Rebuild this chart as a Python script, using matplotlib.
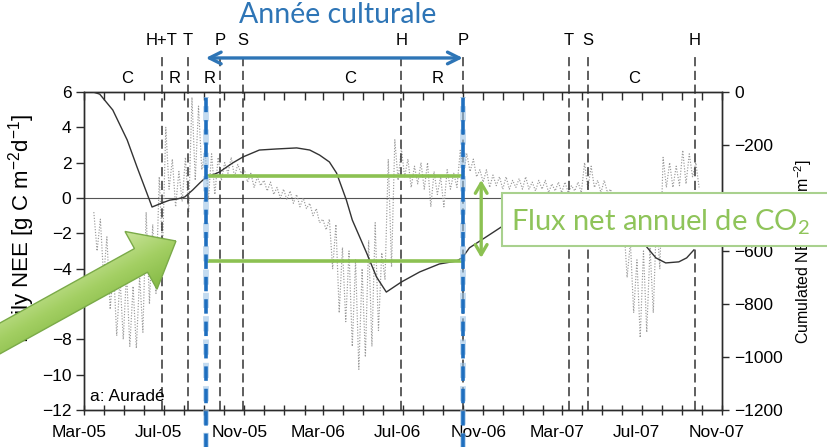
import datetime as dt

import matplotlib
matplotlib.use("Agg")
import matplotlib.pyplot as plt
import matplotlib.dates as mdates
import numpy as np
from matplotlib.colors import LinearSegmentedColormap
from matplotlib.patches import FancyArrow, Rectangle
from matplotlib.transforms import ScaledTranslation

plt.rcParams["font.family"] = ["Liberation Sans", "DejaVu Sans"]
plt.rcParams["font.size"] = 12

# ---------------------------------------------------------------- data
# Daily NEE (g C m-2 d-1), one value every 5 days from 16 Mar 2005
nee_start = dt.date(2005, 3, 16)
nee_step_days = 5
daily_nee = [
    -0.8, -3.0, -1.2, -4.5, -2.2, -6.3,   # Mar-Apr 05
    -3.9, -7.8, -4.5, -8.0, -4.2, -8.4,   # Apr-May 05
    -5.0, -8.5, -4.4, -7.6, -0.8, -6.0,   # May-Jun 05
    -1.5, -5.4, 1.2, -3.0, 4.0, 0.5,      # Jun-Jul 05
    2.2, -0.5, 1.5, -0.2, 2.3, -0.8,      # Jul-Aug 05
    5.7, 1.0, 5.2, 1.6, 2.7, -0.1,        # Aug-Sep 05
    2.5, 0.2, 2.3, 1.0, 2.0, 1.4,         # Sep-Oct 05
    2.3, 1.2, 1.9, 1.4, 1.6, 0.9,         # Oct-Nov 05
    1.4, 0.6, 1.2, 0.7, 1.0, 0.4,         # Nov-Dec 05
    0.9, 0.2, 0.6, 0.0, 0.5, -0.1,        # Dec 05-Jan 06
    0.4, -0.3, 0.2, -0.5, 0.0, -0.6,      # Jan-Feb 06
    -0.3, -1.0, -0.6, -1.4, -1.2, -1.8,   # Feb-Mar 06
    -1.2, -4.0, -1.5, -6.5, -2.8, -7.0,   # Mar-Apr 06
    -3.0, -8.4, -3.5, -9.7, -4.0, -9.0,   # Apr-May 06
    -2.4, -8.4, -1.4, -7.5, -3.1, -4.6,   # May-Jun 06
    2.2, -3.9, 3.3, 1.0, 2.8, 1.2,        # Jun-Jul 06
    2.2, 0.6, 1.8, 0.8, 2.0, 0.5,         # Jul-Aug 06
    2.0, -0.5, 1.5, 0.2, 1.2, -0.5,       # Aug-Sep 06
    1.6, 0.5, 1.4, 0.6, 2.7, 1.4,         # Sep-Oct 06
    2.5, 1.5, 2.2, 1.2, 1.6, 0.9,         # Oct-Nov 06
    1.6, 0.6, 1.3, 0.7, 1.2, 0.5,         # Nov-Dec 06
    1.2, 0.5, 1.0, 0.6, 1.1, 0.5,         # Dec 06
    1.2, 0.5, 0.9, 0.4, 1.0, 0.5,         # Jan 07
    1.0, 0.3, 0.8, 0.4, 0.9, 0.3,         # Feb 07
    0.9, 0.3, 0.7, 0.4, 0.9, 0.3,         # Mar 07
    2.0, 0.5, 1.8, 0.6, 1.0, 0.3,         # Apr 07
    1.0, 0.3, 0.5, -1.0, -0.5, -2.0,      # May 07
    -1.5, -4.5, -2.5, -6.5, -3.5, -7.9,   # Jun 07
    -3.0, -7.6, -2.8, -6.5, -1.0, -4.0,   # Jul 07
    2.3, 0.6, 2.0, 0.6, 1.8, 0.7,         # Aug 07
    2.7, 0.8, 2.5, 1.2, 2.0, 0.6,         # Sep 07
]

# Cumulated NEE (g C m-2)
cum_dates = [
    "2005-03-15", "2005-03-25", "2005-04-14", "2005-05-06", "2005-05-21",
    "2005-06-05", "2005-06-13", "2005-06-28", "2005-07-10", "2005-07-21",
    "2005-08-02", "2005-08-14", "2005-08-25", "2005-09-02", "2005-09-24",
    "2005-10-14", "2005-10-30", "2005-11-24", "2005-12-20", "2006-01-20",
    "2006-02-09", "2006-02-24", "2006-03-11", "2006-03-22", "2006-04-06",
    "2006-04-15", "2006-05-07", "2006-05-22", "2006-06-06", "2006-06-29",
    "2006-07-27", "2006-08-26", "2006-09-21", "2006-09-30", "2006-10-11",
    "2006-11-03", "2006-11-29", "2006-12-26", "2007-01-26", "2007-02-25",
    "2007-03-28", "2007-04-27", "2007-05-20", "2007-06-12", "2007-06-27",
    "2007-07-09", "2007-07-23", "2007-08-07", "2007-08-27", "2007-09-08",
    "2007-09-19",
]
cum_nee = [
    0, -8, -68, -181, -283,
    -381, -434, -419, -408, -404,
    -396, -370, -343, -325, -302,
    -268, -245, -219, -215, -211,
    -219, -238, -264, -306, -408,
    -483, -608, -698, -755, -717,
    -679, -649, -638, -626, -588,
    -551, -509, -483, -460, -438,
    -419, -408, -426, -483, -540,
    -585, -626, -645, -641, -626,
    -596,
]

# Management events (H harvest, T tillage, P ploughing, S sowing)
event_labels = ["H+T", "T", "P", "S", "H", "P", "T", "S", "H"]
event_dates = ["2005-06-28", "2005-08-07", "2005-09-25", "2005-10-30",
               "2006-06-29", "2006-10-01", "2007-03-12", "2007-04-10",
               "2007-09-20"]

# Periods: C crop, R residues / bare soil
period_labels = ["C", "R", "R", "C", "R", "C"]
period_dates = ["2005-05-06", "2005-07-18", "2005-09-09", "2006-04-11",
                "2006-08-23", "2007-06-20"]

# Crop year and its net annual flux
crop_year = ["2005-09-03", "2006-10-01"]
crop_year_cum = [-317, -638]
flux_arrow_date = "2006-10-29"
flux_arrow_span = [-332, -626]

x_range = ["2005-03-01", "2007-11-01"]
left_ticks = list(range(-12, 7, 2))
right_ticks = list(range(-1200, 1, 200))


def to_num(s):
    return mdates.date2num(dt.datetime.strptime(s, "%Y-%m-%d"))


nee_x = [mdates.date2num(nee_start + dt.timedelta(days=nee_step_days * i))
         for i in range(len(daily_nee))]
cum_x = [to_num(d) for d in cum_dates]

# ---------------------------------------------------------------- figure
W, H = 827, 447
fig = plt.figure(figsize=(W / 100, H / 100), dpi=100)
ax = fig.add_axes([84 / W, 1 - 410 / H, (722 - 84) / W, (410 - 92) / H])
ax2 = ax.twinx()

ink = "#2b2b2b"

ax.plot(nee_x, daily_nee, color="#9a9a9a", lw=0.85, ls=(0, (1, 1.4)),
        zorder=2)
ax.axhline(0, color="#555555", lw=0.8, zorder=1)
ax2.plot(cum_x, cum_nee, color="#333333", lw=1.0, zorder=3)

ax.set_xlim(to_num(x_range[0]), to_num(x_range[1]))
ax.set_ylim(left_ticks[0], left_ticks[-1])
ax2.set_ylim(right_ticks[0], right_ticks[-1])
ax.set_yticks(left_ticks)
ax2.set_yticks(right_ticks)

ax.xaxis.set_major_locator(mdates.MonthLocator(bymonth=[3, 7, 11]))
ax.xaxis.set_minor_locator(mdates.MonthLocator())
ax.xaxis.set_major_formatter(mdates.DateFormatter("%b-%y"))

for a in (ax, ax2):
    for sp in a.spines.values():
        sp.set_color(ink)
        sp.set_linewidth(1.0)

ax.tick_params(axis="x", which="both", direction="inout", length=7,
               width=1, color=ink, pad=7, labelsize=12.5)
ax.tick_params(axis="y", direction="out", length=6, width=1, color=ink,
               pad=3, labelsize=12.5)
ax2.tick_params(axis="y", direction="out", length=5, width=1, color=ink,
                pad=4, labelsize=12.5)
# Inward ticks along the top edge
ax2.xaxis.set_visible(True)
ax2.tick_params(axis="x", which="both", bottom=False, top=True,
                labelbottom=False, labeltop=False, direction="in",
                length=6, width=1, color=ink)

shift = ScaledTranslation(-5 / 100, 0, fig.dpi_scale_trans)
for lab in ax.get_xticklabels():
    lab.set_transform(lab.get_transform() + shift)

ax.set_ylabel(r"Daily NEE [g C m$\mathregular{^{-2}}$d$\mathregular{^{-1}}$]",
              fontsize=16)
ax.yaxis.set_label_coords(-0.074, 0.572)
ax2.set_ylabel(r"Cumulated NEE [g C m$\mathregular{^{-2}}$]", fontsize=11.5)
ax2.yaxis.set_label_coords(1.11, 0.5)

ax.text(0.01, 0.041, "a: Auradé", transform=ax.transAxes, fontsize=12.5,
        ha="left", va="center")

# Management events: dashed verticals with their letters above the frame
xt = ax.get_xaxis_transform()
for lab, d in zip(event_labels, event_dates):
    ax.axvline(to_num(d), ymin=0, ymax=1.1226, color="#333333", lw=1.1,
               ls=(0, (6, 3)), clip_on=False, zorder=2)
    ax.text(to_num(d), 1.1635, lab, transform=xt, ha="center",
            va="center", fontsize=12)
for lab, d in zip(period_labels, period_dates):
    ax.text(to_num(d), 1.044, lab, transform=xt, ha="center",
            va="center", fontsize=12)

# Crop year: blue dashed bounds and double arrow
blue = "#1f6fbf"
for d in crop_year:
    ax2.axvline(to_num(d), ymin=-0.118, ymax=0.985, color="#9cc3e6",
                lw=4.2, ls=(0, (2.6, 1.4)), clip_on=False, zorder=8,
                alpha=0.6)
    ax2.axvline(to_num(d), ymin=-0.118, ymax=0.985, color=blue, lw=2.6,
                ls=(0, (4, 2.2)), clip_on=False, zorder=8)
xt2 = ax2.get_xaxis_transform()
ax2.annotate("", xy=(to_num(crop_year[1]), 1.107),
             xytext=(to_num(crop_year[0]), 1.107),
             xycoords=xt2, textcoords=xt2,
             arrowprops=dict(arrowstyle="<->,head_length=0.7,head_width=0.35",
                             color="#2e75b6", lw=2.4, shrinkA=0, shrinkB=0),
             annotation_clip=False)

# Net annual flux: cumulated values at the crop year bounds
green = "#8cc152"
for v in crop_year_cum:
    ax2.plot([to_num(crop_year[0]), to_num(crop_year[1])], [v, v],
             color=green, lw=2.6, solid_capstyle="butt", zorder=7)
ax2.annotate("", xy=(to_num(flux_arrow_date), flux_arrow_span[1]),
             xytext=(to_num(flux_arrow_date), flux_arrow_span[0]),
             arrowprops=dict(arrowstyle="<->,head_length=0.6,head_width=0.35",
                             color=green, lw=2.4, shrinkA=0, shrinkB=0),
             zorder=7)

# ---------------------------------------------------------------- overlay
ov = fig.add_axes([0, 0, 1, 1], zorder=10)
ov.patch.set_visible(False)
ov.axis("off")

fig.text(338 / W, 1 - 15 / H, "Année culturale", fontsize=20.5,
         family="Lato", color="#2e75b6", ha="center", va="center")

box = Rectangle((502, 193), 360, 53, facecolor="white",
                edgecolor="#a9d18e", lw=1.5, zorder=12)
ov.add_patch(box)
ov.text(511, 230, r"Flux net annuel de CO$_{\mathregular{2}}$",
        fontsize=21, family="Lato", color="#8fc45a", ha="left",
        va="baseline", zorder=13)

# Large pointer arrow, shaded across its width
tail = np.array([-30.0, 355.0])
tip = np.array([176.0, 241.0])
big_arrow = FancyArrow(tail[0], tail[1], *(tip - tail), width=27,
                       head_width=66, head_length=40,
                       length_includes_head=True, facecolor="none",
                       edgecolor="#7aaa48", lw=1.0, zorder=12)
ov.add_patch(big_arrow)
u = (tip - tail) / np.hypot(*(tip - tail))
normal = np.array([-u[1], u[0]])  # points down-right in pixel space
gx, gy = np.meshgrid(np.arange(-40, 200), np.arange(210, 390))
shade = (gx - tail[0]) * normal[0] + (gy - tail[1]) * normal[1]
cmap = LinearSegmentedColormap.from_list("leaf", ["#c9e49a", "#a3cf63",
                                                  "#84b944"])
im = ov.imshow(shade, extent=(-40, 200, 390, 210), origin="upper",
               cmap=cmap, vmin=-33, vmax=33, aspect="auto", zorder=11)
im.set_clip_path(big_arrow)

ov.set_xlim(0, W)
ov.set_ylim(H, 0)

fig.savefig("out.png", dpi=100)
